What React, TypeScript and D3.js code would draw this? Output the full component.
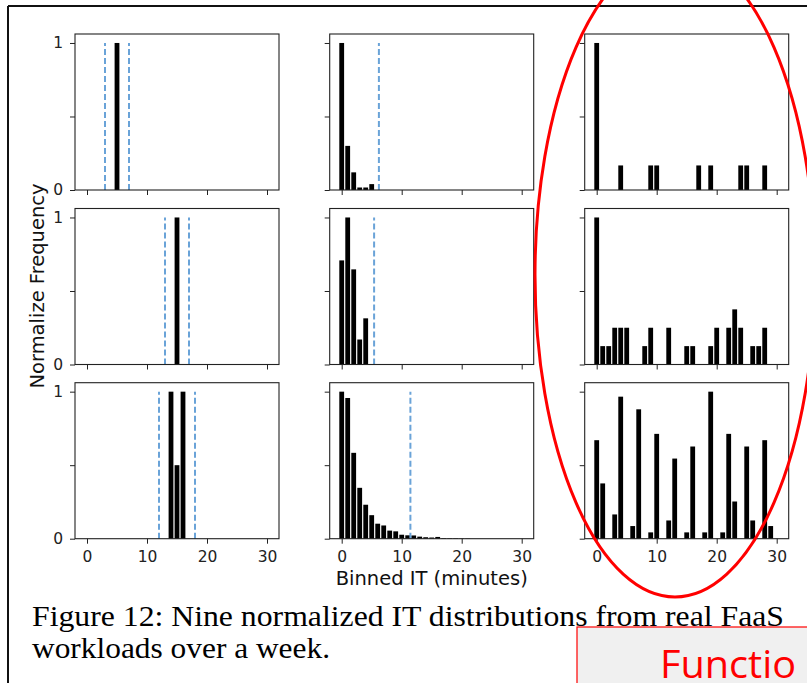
import React, { useEffect, useRef } from "react";
import * as d3 from "d3";

// shared ticks
const xTicks = [0, 10, 20, 30];
const yTicks = [0, 0.5, 1];

// row 1
const r1c1Bins = [5];
const r1c1Freq = [1];
const r1c1Bounds = [3, 7];

const r1c2Bins = [0, 1, 2, 3, 4, 5];
const r1c2Freq = [1, 0.3, 0.12, 0.017, 0.017, 0.04];
const r1c2Bounds = [6.2];

const r1c3Bins = [0, 4, 9, 10, 17, 19, 24, 25, 28];
const r1c3Freq = [1, 0.167, 0.167, 0.167, 0.167, 0.167, 0.167, 0.167, 0.167];
const r1c3Bounds: number[] = [];

// row 2
const r2c1Bins = [15];
const r2c1Freq = [1];
const r2c1Bounds = [13, 17];

const r2c2Bins = [0, 1, 2, 3, 4];
const r2c2Freq = [0.708, 1, 0.647, 0.17, 0.314];
const r2c2Bounds = [5.4];

const r2c3Bins = [0, 1, 2, 3, 4, 5, 8, 9, 12, 15, 16, 19, 20, 22, 23, 24, 26, 27, 28];
const r2c3Freq = [1, 0.125, 0.125, 0.25, 0.25, 0.25, 0.125, 0.25, 0.25, 0.125, 0.125, 0.125, 0.25, 0.25, 0.375, 0.25, 0.125, 0.125, 0.25];
const r2c3Bounds: number[] = [];

// row 3
const r3c1Bins = [14, 15, 16];
const r3c1Freq = [1, 0.5, 1];
const r3c1Bounds = [12, 18];

const r3c2Bins = [0, 1, 2, 3, 4, 5, 6, 7, 8, 9, 10, 11, 12, 13, 14, 15, 16, 17, 18, 19, 20, 21];
const r3c2Freq = [1, 0.957, 0.584, 0.346, 0.231, 0.16, 0.102, 0.09, 0.055, 0.05, 0.027, 0.023, 0.022, 0.014, 0.01, 0.008, 0.012, 0.004, 0.003, 0.003, 0.002, 0.002];
const r3c2Bounds = [11.45];

const r3c3Bins = [0, 1, 3, 4, 6, 7, 9, 10, 12, 13, 15, 16, 18, 19, 21, 22, 23, 25, 26, 28, 29];
const r3c3Freq = [0.67, 0.376, 0.165, 0.966, 0.086, 0.88, 0.043, 0.713, 0.124, 0.545, 0.043, 0.627, 0.043, 1, 0.043, 0.713, 0.253, 0.627, 0.124, 0.67, 0.086];
const r3c3Bounds: number[] = [];

const panels = [
  { bins: r1c1Bins, freq: r1c1Freq, bounds: r1c1Bounds },
  { bins: r1c2Bins, freq: r1c2Freq, bounds: r1c2Bounds },
  { bins: r1c3Bins, freq: r1c3Freq, bounds: r1c3Bounds },
  { bins: r2c1Bins, freq: r2c1Freq, bounds: r2c1Bounds },
  { bins: r2c2Bins, freq: r2c2Freq, bounds: r2c2Bounds },
  { bins: r2c3Bins, freq: r2c3Freq, bounds: r2c3Bounds },
  { bins: r3c1Bins, freq: r3c1Freq, bounds: r3c1Bounds },
  { bins: r3c2Bins, freq: r3c2Freq, bounds: r3c2Bounds },
  { bins: r3c3Bins, freq: r3c3Freq, bounds: r3c3Bounds },
];

const W = 807;
const H = 683;

export default function App() {
  const ref = useRef<SVGSVGElement>(null);

  useEffect(() => {
    const svg = d3.select(ref.current);
    svg.selectAll("*").remove();

    // page frame
    svg.append("line").attr("x1", 8).attr("x2", W).attr("y1", 6).attr("y2", 6)
      .attr("stroke", "#111").attr("stroke-width", 2);
    svg.append("line").attr("x1", 8).attr("x2", 8).attr("y1", 6).attr("y2", H)
      .attr("stroke", "#111").attr("stroke-width", 2);

    const colLeft = [75, 329.7, 584.7];
    const rowTop = [34, 208.5, 382.7];
    const pw = 204;
    const ph = 156;

    const x = d3.scaleLinear().domain([-2, 32]).range([0, pw]);
    const y = d3.scaleLinear().domain([0, 1.061]).range([ph, 0]);
    const bw = x(0.8) - x(0);

    panels.forEach((p, i) => {
      const row = Math.floor(i / 3);
      const col = i % 3;
      const g = svg.append("g")
        .attr("transform", `translate(${colLeft[col]},${rowTop[row]})`);

      // bars
      g.selectAll("rect.bar")
        .data(p.bins)
        .join("rect")
        .attr("class", "bar")
        .attr("x", (d) => x(d - 0.4))
        .attr("width", bw)
        .attr("y", (d, j) => y(p.freq[j]))
        .attr("height", (d, j) => y(0) - y(p.freq[j]))
        .attr("fill", "#000");

      // dashed bounds
      g.selectAll("line.bound")
        .data(p.bounds)
        .join("line")
        .attr("class", "bound")
        .attr("x1", (d) => x(d))
        .attr("x2", (d) => x(d))
        .attr("y1", y(0))
        .attr("y2", y(1))
        .attr("stroke", "#6aa3d8")
        .attr("stroke-width", 2)
        .attr("stroke-dasharray", "6,3");

      // axes
      const xAxis = d3.axisBottom(x)
        .tickValues(xTicks)
        .tickSize(5)
        .tickSizeOuter(0)
        .tickPadding(7)
        .tickFormat((d) => (row === 2 ? String(d) : ""));
      g.append("g")
        .attr("transform", `translate(0,${ph})`)
        .call(xAxis)
        .call((a) => a.select(".domain").remove())
        .attr("font-family", "DejaVu Sans")
        .attr("font-size", 15.5)
        .attr("color", "#222");

      const yAxis = d3.axisLeft(y)
        .tickValues(yTicks)
        .tickSize(5)
        .tickSizeOuter(0)
        .tickPadding(7)
        .tickFormat((d) => (col === 0 && d !== 0.5 ? String(d) : ""));
      g.append("g")
        .call(yAxis)
        .call((a) => a.select(".domain").remove())
        .attr("font-family", "DejaVu Sans")
        .attr("font-size", 15.5)
        .attr("color", "#222");

      // frame
      g.append("rect")
        .attr("width", pw)
        .attr("height", ph)
        .attr("fill", "none")
        .attr("stroke", "#222")
        .attr("stroke-width", 1.1);
    });

    // axis labels
    svg.append("text")
      .attr("transform", "translate(44,286) rotate(-90)")
      .attr("text-anchor", "middle")
      .attr("font-family", "DejaVu Sans")
      .attr("font-size", 19.5)
      .attr("fill", "#111")
      .text("Normalize Frequency");
    svg.append("text")
      .attr("x", 431.7)
      .attr("y", 585)
      .attr("text-anchor", "middle")
      .attr("font-family", "DejaVu Sans")
      .attr("font-size", 19.5)
      .attr("fill", "#111")
      .text("Binned IT (minutes)");

    // caption
    svg.append("text")
      .attr("x", 32).attr("y", 626)
      .attr("font-family", "Liberation Serif")
      .attr("font-size", 29)
      .attr("textLength", 752)
      .attr("lengthAdjust", "spacingAndGlyphs")
      .attr("fill", "#000")
      .text("Figure 12: Nine normalized IT distributions from real FaaS");
    svg.append("text")
      .attr("x", 32).attr("y", 658)
      .attr("font-family", "Liberation Serif")
      .attr("font-size", 29)
      .attr("textLength", 298)
      .attr("lengthAdjust", "spacingAndGlyphs")
      .attr("fill", "#000")
      .text("workloads over a week.");

    // annotation
    svg.append("ellipse")
      .attr("cx", 675).attr("cy", 275).attr("rx", 140).attr("ry", 322)
      .attr("fill", "none").attr("stroke", "#ff0000").attr("stroke-width", 3);

    svg.append("rect")
      .attr("x", 577).attr("y", 627).attr("width", 240).attr("height", 70)
      .attr("fill", "#f0f0f0").attr("stroke", "#ff0000").attr("stroke-width", 1.2);
    svg.append("text")
      .attr("x", 660).attr("y", 678)
      .attr("font-family", "Open Sans")
      .attr("font-size", 38)
      .attr("textLength", 136)
      .attr("lengthAdjust", "spacingAndGlyphs")
      .attr("fill", "#ff0000")
      .text("Functio");
  }, []);

  return (
    <svg
      ref={ref}
      width={W}
      height={H}
      style={{ position: "absolute", left: 0, top: 0, background: "#fff" }}
    />
  );
}
